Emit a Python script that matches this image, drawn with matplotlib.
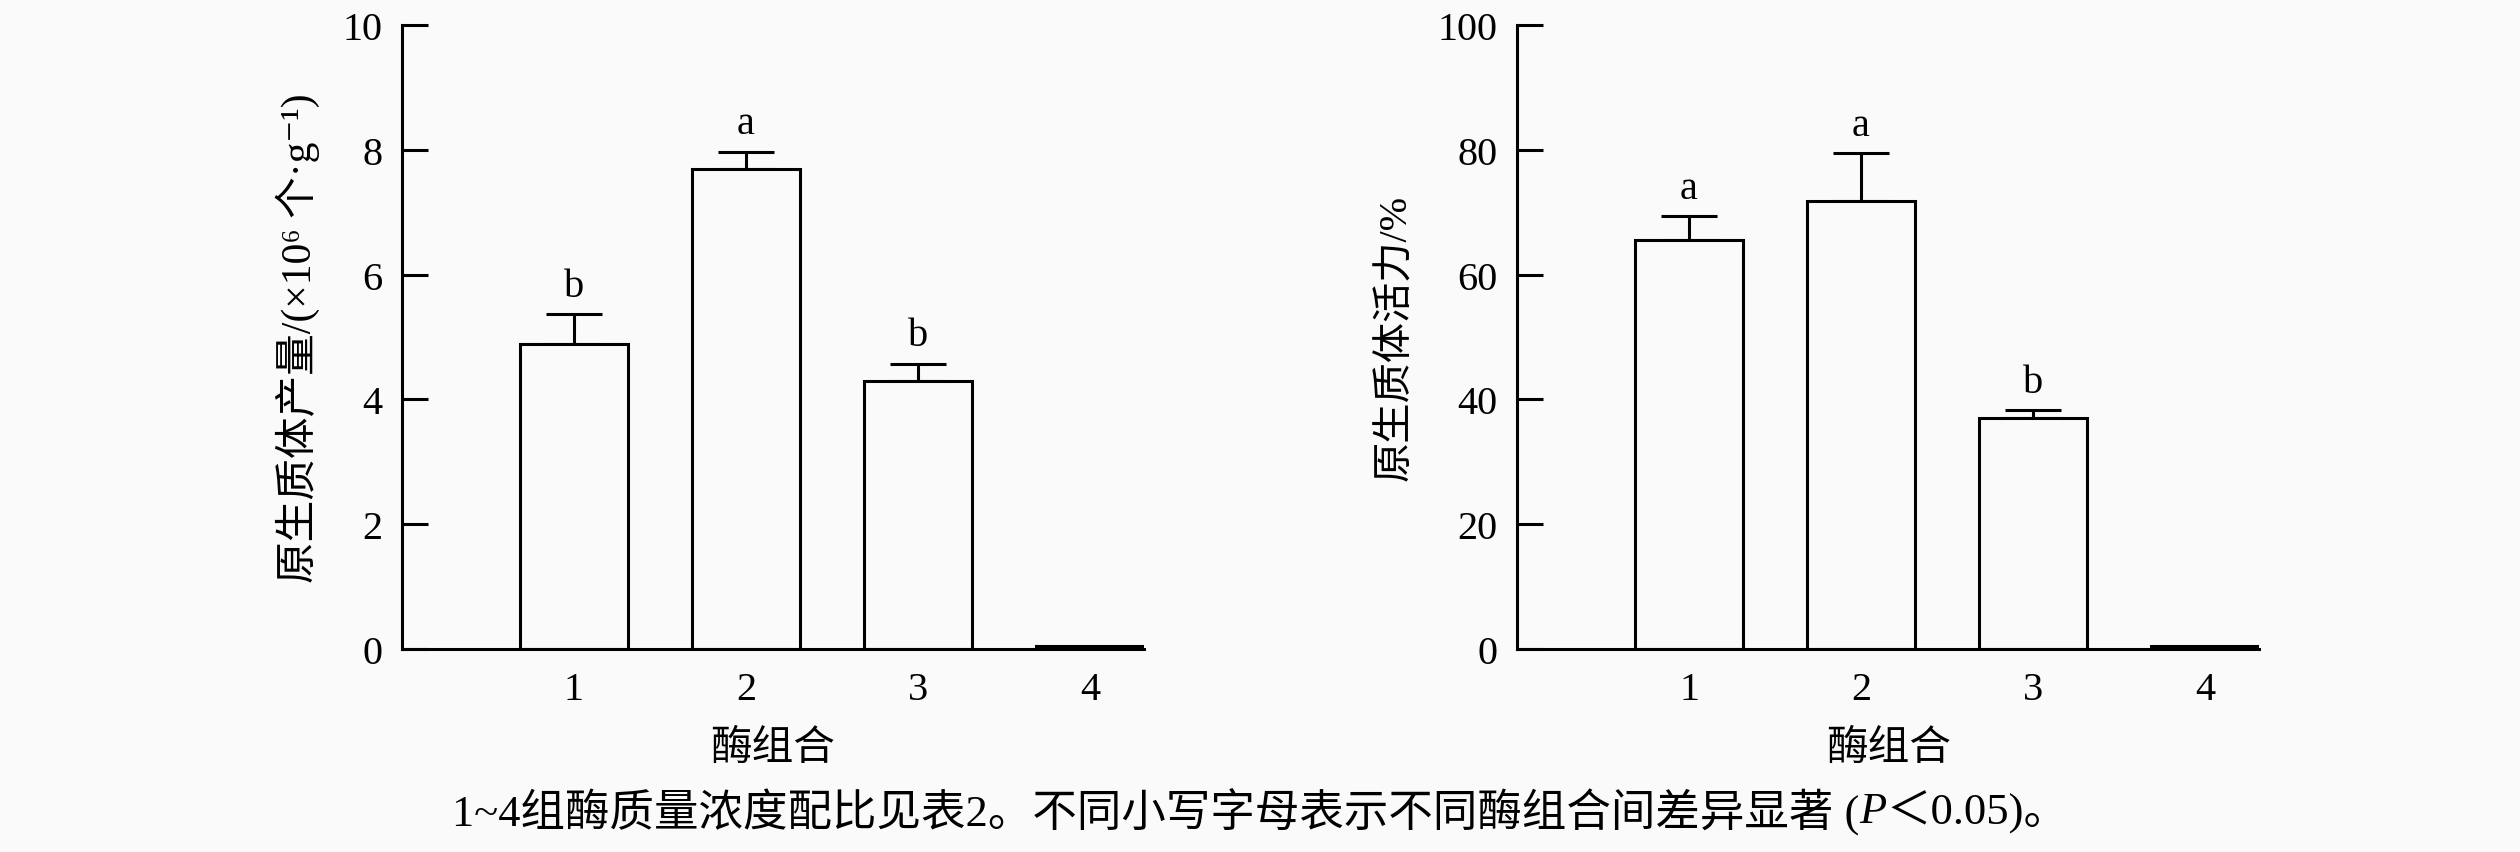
import numpy as np
import matplotlib
matplotlib.use("Agg")
import matplotlib.pyplot as plt

plt.rcParams['font.family'] = ['Liberation Serif', 'Noto Sans CJK SC', 'DejaVu Serif']

# datos
grupos = ['1', '2', '3', '4']
rendimiento = [4.89, 7.69, 4.29, 0.05]
rendimiento_err = [0.48, 0.28, 0.28, 0.0]
rendimiento_letras = ['b', 'a', 'b', '']
viabilidad = [65.5, 71.8, 37.0, 0.5]
viabilidad_err = [3.9, 7.7, 1.3, 0.0]
viabilidad_letras = ['a', 'a', 'b', '']

fondo = '#fafafa'
fig = plt.figure(figsize=(25.2, 8.53), dpi=100, facecolor=fondo)

ax1 = fig.add_axes([0.1595, 0.238, 0.2945, 0.7315])
ax2 = fig.add_axes([0.602, 0.238, 0.2945, 0.7315])

def panel(ax, vals, errs, letras, ymax, ylabel, yfs, off):
    x = np.arange(1, len(vals) + 1)
    ax.set_facecolor(fondo)
    ax.bar(x, vals, width=0.63, color=fondo, edgecolor='black', linewidth=2.2, zorder=2)
    ax.errorbar(x[:3], vals[:3], yerr=[np.zeros(3), errs[:3]], fmt='none',
                ecolor='black', elinewidth=2.2, capsize=20, capthick=2.2, zorder=1)
    for xi, v, e, l in zip(x, vals, errs, letras):
        if l:
            ax.text(xi, v + e + off, l, ha='center', va='bottom', fontsize=29)
    ax.set_xlim(0, 4.315)
    ax.set_ylim(0, ymax)
    ax.set_yticks(np.linspace(0, ymax, 6))
    ax.set_xticks(x)
    ax.set_xticklabels(grupos)
    for s in ['top', 'right']:
        ax.spines[s].set_visible(False)
    for s in ['left', 'bottom']:
        ax.spines[s].set_linewidth(2.2)
    ax.tick_params(axis='y', direction='in', length=19, width=2.2, labelsize=29, pad=14)
    ax.tick_params(axis='x', length=0, labelsize=29, pad=16)
    ax.set_xlabel('酶组合', fontsize=30, labelpad=15)
    ax.set_ylabel(ylabel, fontsize=yfs, labelpad=16)

panel(ax1, rendimiento, rendimiento_err, rendimiento_letras, 10,
      '原生质体产量/(×10⁶ 个·g⁻¹)', 30, 0.15)
panel(ax2, viabilidad, viabilidad_err, viabilidad_letras, 100,
      '原生质体活力/%', 29, 1.5)

# pie de figura con la P en cursiva
partes = ['1~4组酶质量浓度配比见表2。不同小写字母表示不同酶组合间差异显著 (', 'P', '＜0.05)。']
estilos = ['normal', 'italic', 'normal']
r = fig.canvas.get_renderer()
textos = []
for p, s in zip(partes, estilos):
    t = fig.text(0, 0.048, p, ha='left', va='center', fontsize=32, style=s)
    textos.append(t)
anchos = [t.get_window_extent(r).width for t in textos]
x0 = (fig.bbox.width - sum(anchos)) / 2
for t, w in zip(textos, anchos):
    t.set_x(x0 / fig.bbox.width)
    x0 += w

fig.savefig('out.png', dpi=100, facecolor=fondo)
